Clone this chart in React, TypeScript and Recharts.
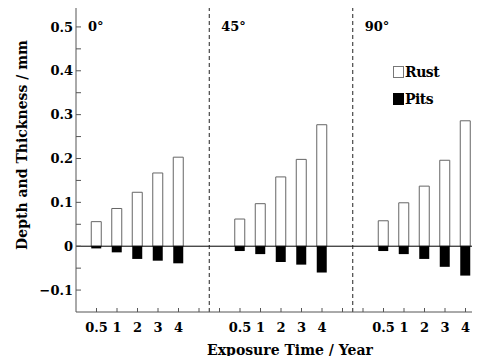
import { ComposedChart, Bar, XAxis, YAxis, ReferenceLine, Legend } from 'recharts'

const angles = ['0°', '45°', '90°']
const years = ['0.5', '1', '2', '3', '4']

// rust layer thickness (mm), one array per inclination
const rust0 = [0.056, 0.086, 0.123, 0.167, 0.203]
const rust45 = [0.062, 0.097, 0.158, 0.198, 0.277]
const rust90 = [0.058, 0.099, 0.137, 0.196, 0.286]

// pit depth (mm), drawn below zero
const pits0 = [-0.005, -0.014, -0.029, -0.033, -0.039]
const pits45 = [-0.011, -0.018, -0.036, -0.042, -0.06]
const pits90 = [-0.011, -0.018, -0.029, -0.047, -0.067]

const yTicks = [-0.1, -0.05, 0, 0.05, 0.1, 0.15, 0.2, 0.25, 0.3, 0.35, 0.4, 0.45, 0.5]
const xTicks = [1, 2, 3, 4, 5, 6, 7, 8, 9, 10, 11, 12, 13, 14, 15, 16, 17, 18, 19]

const rustByAngle = [rust0, rust45, rust90]
const pitsByAngle = [pits0, pits45, pits90]

// each panel takes 7 slots on the x axis: 5 bars plus 2 empty slots
const PANEL = 7
const panelStarts = angles.map((_, g) => (g === 0 ? 0 : g * PANEL - 0.5))

const rows = angles.flatMap((_, g) =>
  years.map((year, i) => ({
    pos: 1 + g * PANEL + i,
    year,
    rust: rustByAngle[g][i],
    pits: pitsByAngle[g][i],
  }))
)

const yearAt: Record<number, string> = {}
rows.forEach((r) => {
  yearAt[r.pos] = r.year
})

const FONT = '"DejaVu Serif", serif'
const tickStyle = { fontFamily: FONT, fontWeight: 700, fontSize: 13, fill: '#000' }
const AXIS = '#555'

function formatY(v: number) {
  const tenths = v * 10
  if (Math.abs(tenths - Math.round(tenths)) > 1e-6) return ''
  if (Math.abs(v) < 1e-9) return '0'
  return v < 0 ? `\u2212${Math.abs(v).toFixed(1)}` : v.toFixed(1)
}

function YTitle({ value }: { value?: string }) {
  return (
    <text
      x={22}
      y={145}
      transform="rotate(-90, 22, 145)"
      textAnchor="middle"
      dominantBaseline="central"
      style={{ fontFamily: FONT, fontWeight: 700, fontSize: 14, fill: '#000' }}
    >
      {value}
    </text>
  )
}

function XTitle({ value }: { value?: string }) {
  return (
    <text
      x={290}
      y={355}
      textAnchor="middle"
      style={{ fontFamily: FONT, fontWeight: 700, fontSize: 14, fill: '#000' }}
    >
      {value}
    </text>
  )
}

function PanelLabel({ viewBox, value }: { viewBox?: { x: number }; value?: string }) {
  if (!viewBox) return null
  return (
    <text
      x={viewBox.x + 12}
      y={31}
      style={{ fontFamily: FONT, fontWeight: 700, fontSize: 13, fill: '#000' }}
    >
      {value}
    </text>
  )
}

const legendOrder = ['rust', 'pits']
const legendBoxes: Record<string, React.CSSProperties> = {
  rust: { background: '#fff', border: '1px solid #777' },
  pits: { background: '#000', border: '1px solid #000' },
}

function LegendBox({ payload }: { payload?: Array<{ value: string; dataKey?: unknown }> }) {
  const items = [...(payload ?? [])].sort(
    (a, b) => legendOrder.indexOf(String(a.dataKey)) - legendOrder.indexOf(String(b.dataKey))
  )
  return (
    <div style={{ fontFamily: FONT, fontWeight: 700, fontSize: 14, lineHeight: '14px' }}>
      {items.map((item) => (
        <div key={item.value} style={{ display: 'flex', alignItems: 'center', height: 14, marginBottom: 13 }}>
          <span
            style={{
              display: 'inline-block',
              width: 9,
              height: 10,
              marginRight: 1,
              ...legendBoxes[String(item.dataKey)],
            }}
          />
          <span style={{ letterSpacing: -0.5 }}>{item.value}</span>
        </div>
      ))}
    </div>
  )
}

export default function App() {
  return (
    <div style={{ margin: -8, width: 480, height: 364, overflow: 'hidden', background: '#fff' }}>
      <ComposedChart
        width={490}
        height={364}
        data={rows}
        stackOffset="sign"
        margin={{ top: 5, right: 4, bottom: 0, left: 0 }}
      >
        <XAxis
          dataKey="pos"
          type="number"
          domain={[0, 20]}
          allowDataOverflow
          ticks={xTicks}
          interval={0}
          tickFormatter={(v: number) => yearAt[v] ?? ''}
          tickSize={-4}
          tickMargin={15}
          tick={tickStyle}
          axisLine={{ stroke: AXIS }}
          tickLine={{ stroke: AXIS }}
          height={52}
          label={{ value: 'Exposure Time / Year', content: <XTitle /> }}
        />
        <YAxis
          type="number"
          domain={[-0.15, 0.55]}
          allowDataOverflow
          ticks={yTicks}
          interval={0}
          tickFormatter={formatY}
          tickSize={-5}
          tickMargin={8}
          tick={tickStyle}
          axisLine={{ stroke: AXIS }}
          tickLine={{ stroke: AXIS }}
          width={76}
          label={{ value: 'Depth and Thickness / mm', content: <YTitle /> }}
        />
        {/* horizontal + middle + center keeps the legend from taking plot space */}
        <Legend
          layout="horizontal"
          verticalAlign="middle"
          align="center"
          content={<LegendBox />}
          wrapperStyle={{ position: 'absolute', left: 393, top: 65, width: 70 }}
        />
        <Bar
          dataKey="rust"
          name="Rust"
          stackId="a"
          barSize={10}
          fill="#fff"
          stroke="#666"
          strokeWidth={1}
          isAnimationActive={false}
        />
        <Bar
          dataKey="pits"
          name="Pits"
          stackId="a"
          barSize={10}
          fill="#000"
          isAnimationActive={false}
        />
        <ReferenceLine y={0.55} stroke={AXIS} />
        <ReferenceLine y={0} stroke="#000" />
        {panelStarts.map((x, g) => (
          <ReferenceLine
            key={angles[g]}
            x={x}
            stroke={g === 0 ? 'none' : '#222'}
            strokeDasharray="4 3"
            label={{ value: angles[g], content: <PanelLabel /> }}
          />
        ))}
      </ComposedChart>
    </div>
  )
}
